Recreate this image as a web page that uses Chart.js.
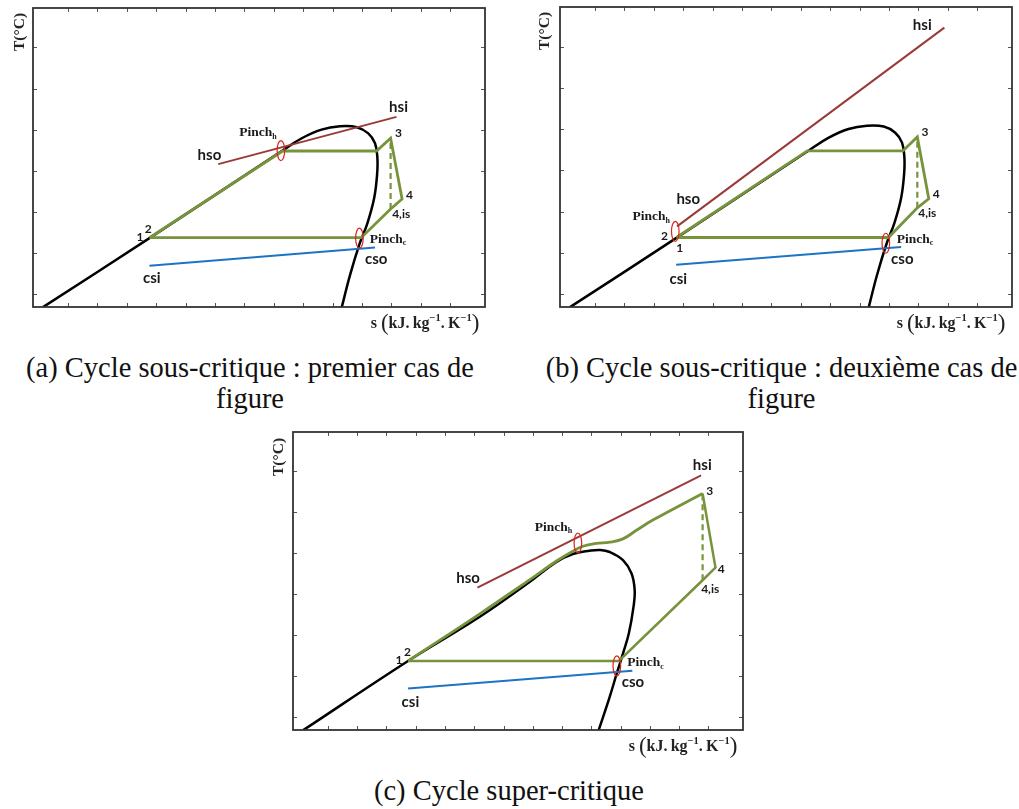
<!DOCTYPE html>
<html>
<head>
<meta charset="utf-8">
<script src="https://cdn.jsdelivr.net/npm/chart.js@4.4.1/dist/chart.umd.min.js"></script>
<style>
  body { margin: 0; background: #fff; width: 1019px; height: 809px; position: relative; overflow: hidden; }
  canvas { position: absolute; }
  .cap { position: absolute; font-family: "Liberation Serif", "Times New Roman", serif; font-size: 28.5px; line-height: 31px;
         text-align: center; color: #111; white-space: nowrap; }
  .ylab { position: absolute; font: bold 15.5px "Liberation Serif", serif; color: #222; white-space: nowrap;
          transform: translate(-50%, -50%) rotate(-90deg); }
  .xlab { position: absolute; font: bold 16px "Liberation Serif", serif; color: #222; white-space: nowrap;
          transform: translate(-50%, -50%); }
  .xlab .pp { font-weight: normal; font-size: 23px; vertical-align: -2px; }
  .xlab sup { font-size: 10.5px; vertical-align: 7px; line-height: 0; }
</style>
</head>
<body>
<canvas id="chartA" width="500" height="315" style="left:0;top:0"></canvas>
<canvas id="chartB" width="499" height="315" style="left:520px;top:0"></canvas>
<canvas id="chartC" width="500" height="315" style="left:255px;top:425px"></canvas>

<div class="ylab" style="left:18.5px;top:32px">T(°C)</div>
<div class="ylab" style="left:544px;top:31px">T(°C)</div>
<div class="ylab" style="left:278px;top:457px">T(°C)</div>
<div class="xlab" style="left:425px;top:323px">s <span class="pp">(</span>kJ.&thinsp;kg<sup>−1</sup>.&thinsp;K<sup>−1</sup><span class="pp">)</span></div>
<div class="xlab" style="left:951px;top:323px">s <span class="pp">(</span>kJ.&thinsp;kg<sup>−1</sup>.&thinsp;K<sup>−1</sup><span class="pp">)</span></div>
<div class="xlab" style="left:683px;top:746px">s <span class="pp">(</span>kJ.&thinsp;kg<sup>−1</sup>.&thinsp;K<sup>−1</sup><span class="pp">)</span></div>

<div class="cap" style="left:0;top:352px;width:500px">(a) Cycle sous-critique : premier cas de<br>figure</div>
<div class="cap" style="left:532px;top:352px;width:499px">(b) Cycle sous-critique : deuxième cas de<br>figure</div>
<div class="cap" style="left:259px;top:775px;width:500px">(c) Cycle super-critique</div>

<script>
// axis ticks (no tick labels in the schematic)
const xTicks = [1, 2, 3, 4, 5, 6, 7, 8, 9, 10, 11, 12, 13, 14];
const yTicks = [1, 2, 3, 4, 5, 6, 7];

// saturation dome, sub-critical cases (a) and (b)
const domeS = [0.15, 3.77, 8.27, 8.95, 9.62, 10.25, 10.82, 11.21, 11.44, 11.52, 11.51, 11.41, 11.18, 10.92, 10.59, 10.31];
const domeT = [0.68, 2.36, 4.48, 4.79, 5.00, 5.08, 5.06, 4.91, 4.67, 4.32, 3.90, 3.33, 2.72, 2.23, 1.46, 0.68];

// (a) premier cas
const cycleAS = [3.77, 8.30, 11.49, 11.97, 12.36, 11.97, 10.97, 3.77];
const cycleAT = [2.37, 4.48, 4.48, 4.79, 3.31, 3.07, 2.37, 2.37];
const dashAS = [11.97, 11.97];
const dashAT = [3.07, 4.79];
const hotAS = [6.11, 12.17];
const hotAT = [4.16, 5.31];
const coldAS = [3.77, 11.44];
const coldAT = [1.69, 2.13];
const pinchAS = [8.24, 10.91];
const pinchAT = [4.49, 2.36];
const labelsA = ["hsi", "hso", "Pinch|h", "3", "4", "4,is", "1", "2", "Pinch|c", "cso", "csi"];
const labelAS = [12.24, 5.81, 7.46, 12.24, 12.61, 12.33, 3.45, 3.73, 11.88, 11.48, 3.85];
const labelAT = [5.54, 4.38, 4.92, 4.91, 3.41, 2.95, 2.39, 2.58, 2.33, 1.85, 1.38];

// (b) deuxième cas
const cycleBS = [3.77, 8.22, 11.47, 11.96, 12.35, 11.96, 10.98, 3.77];
const cycleBT = [2.37, 4.47, 4.47, 4.81, 3.31, 3.09, 2.37, 2.37];
const dashBS = [11.96, 11.96];
const dashBT = [3.09, 4.81];
const hotBS = [3.79, 12.88];
const hotBT = [2.64, 7.46];
const coldBS = [3.76, 11.41];
const coldBT = [1.71, 2.14];
const pinchBS = [3.73, 10.89];
const pinchBT = [2.52, 2.23];
const labelsB = ["hsi", "hso", "Pinch|h", "2", "1", "3", "4", "4,is", "Pinch|c", "cso", "csi"];
const labelBS = [12.13, 4.17, 2.91, 3.36, 3.88, 12.22, 12.60, 12.30, 11.88, 11.45, 3.83];
const labelBT = [7.52, 3.29, 2.88, 2.41, 2.11, 4.93, 3.41, 2.96, 2.33, 1.85, 1.37];

// (c) super-critique
const domeCS = [0.16, 3.74, 6.19, 7.89, 8.81, 9.37, 9.94, 10.30, 10.63, 11.08, 11.37, 11.48, 11.44, 11.28, 11.08, 10.87, 10.63, 10.25];
const domeCT = [0.68, 2.37, 3.45, 4.30, 4.79, 4.98, 5.06, 5.08, 5.03, 4.83, 4.51, 4.10, 3.69, 3.04, 2.55, 2.07, 1.50, 0.68];
const heatCS = [3.74, 6.19, 7.89, 8.81, 9.37, 9.71, 10.17, 10.63, 11.08, 11.54, 12.10, 13.80];
const heatCT = [2.37, 3.52, 4.35, 4.81, 5.05, 5.17, 5.24, 5.27, 5.35, 5.56, 5.81, 6.46];
const cycleCS = [13.80, 14.24, 13.80, 10.94, 3.74];
const cycleCT = [6.46, 4.65, 4.34, 2.37, 2.37];
const dashCS = [13.80, 13.80];
const dashCT = [4.34, 6.46];
const hotCS = [6.11, 13.75];
const hotCT = [4.16, 6.90];
const coldCS = [3.74, 11.40];
const coldCT = [1.70, 2.13];
const pinchCS = [9.54, 10.87];
const pinchCT = [5.25, 2.25];
const labelsC = ["hsi", "hso", "Pinch|h", "3", "4", "4,is", "1", "2", "Pinch|c", "cso", "csi"];
const labelCS = [13.79, 5.79, 8.71, 14.04, 14.44, 14.06, 3.43, 3.72, 11.85, 11.42, 3.82];
const labelCT = [7.15, 4.38, 5.63, 6.52, 4.61, 4.12, 2.39, 2.58, 2.32, 1.86, 1.37];

const BLACK = "#000000";
const GREEN = "#77933c";
const RED = "#993a38";
const BLUE = "#1c74c6";
const PINCH = "#d8261c";

function pts(s, t) {
  return s.map((v, i) => ({ x: v, y: t[i] }));
}

// lower "order" is drawn on top
function line(data, color, width, order, extra) {
  return Object.assign({
    data,
    borderColor: color,
    borderWidth: width,
    pointRadius: 0,
    showLine: true,
    fill: false,
    tension: 0,
    order
  }, extra || {});
}

function drawLabel(ctx, text, px, py) {
  ctx.fillStyle = "#1a1a1a";
  ctx.textBaseline = "middle";
  if (text.includes("|")) {
    const [main, sub] = text.split("|");
    ctx.font = "bold 13.5px 'Liberation Serif'";
    const w1 = ctx.measureText(main).width;
    ctx.font = "bold 8px 'Liberation Serif'";
    const w2 = ctx.measureText(sub).width;
    const x0 = px - (w1 + w2) / 2;
    ctx.textAlign = "left";
    ctx.font = "bold 13.5px 'Liberation Serif'";
    ctx.fillText(main, x0, py);
    ctx.font = "bold 8px 'Liberation Serif'";
    ctx.fillText(sub, x0 + w1, py + 4);
    return;
  }
  ctx.textAlign = "center";
  if (/^[hc]s/.test(text)) {
    ctx.font = "bold 15px Lato";
  } else {
    ctx.font = "bold 12px Lato";
  }
  ctx.fillText(text, px, py);
}

function framePlugin(pinchS, pinchT, labels, labelS, labelT) {
  return {
    id: "frame",
    afterDatasetsDraw(chart) {
      const { ctx, chartArea: a } = chart;
      const x = chart.scales.x;
      const y = chart.scales.y;
      ctx.save();

      // pinch markers
      ctx.strokeStyle = PINCH;
      ctx.lineWidth = 1.2;
      pinchS.forEach((s, i) => {
        ctx.beginPath();
        ctx.ellipse(x.getPixelForValue(s), y.getPixelForValue(pinchT[i]), 3.8, 10, 0, 0, Math.PI * 2);
        ctx.stroke();
      });

      labels.forEach((txt, i) => {
        drawLabel(ctx, txt, x.getPixelForValue(labelS[i]), y.getPixelForValue(labelT[i]));
      });

      // box with inward ticks on all four sides
      ctx.strokeStyle = "#555";
      ctx.lineWidth = 1;
      ctx.beginPath();
      xTicks.forEach((v) => {
        const px = Math.round(x.getPixelForValue(v)) + 0.5;
        ctx.moveTo(px, a.bottom); ctx.lineTo(px, a.bottom - 4);
        ctx.moveTo(px, a.top); ctx.lineTo(px, a.top + 4);
      });
      yTicks.forEach((v) => {
        const py = Math.round(y.getPixelForValue(v)) + 0.5;
        ctx.moveTo(a.left, py); ctx.lineTo(a.left + 4, py);
        ctx.moveTo(a.right, py); ctx.lineTo(a.right - 4, py);
      });
      ctx.stroke();
      ctx.strokeStyle = "#333";
      ctx.lineWidth = 1.8;
      ctx.strokeRect(a.left, a.top, a.right - a.left, a.bottom - a.top);
      ctx.restore();
    }
  };
}

function makeChart(id, padding, datasets, plugin) {
  return new Chart(document.getElementById(id), {
    type: "scatter",
    data: { datasets },
    options: {
      responsive: false,
      animation: false,
      devicePixelRatio: 1,
      layout: { padding },
      plugins: { legend: { display: false }, tooltip: { enabled: false } },
      scales: {
        x: { type: "linear", min: -0.19, max: 15.18, display: false },
        y: { type: "linear", min: 0.684, max: 7.96, display: false }
      }
    },
    plugins: [plugin]
  });
}

makeChart("chartA", { left: 33, top: 8, right: 15, bottom: 8 }, [
  line(pts(domeS, domeT), BLACK, 2.5, 5, { tension: 0.4 }),
  line(pts(cycleAS, cycleAT), GREEN, 2.8, 4),
  line(pts(dashAS, dashAT), GREEN, 2.2, 3, { borderDash: [6, 4] }),
  line(pts(hotAS, hotAT), RED, 2, 1),
  line(pts(coldAS, coldAT), BLUE, 2, 2)
], framePlugin(pinchAS, pinchAT, labelsA, labelAS, labelAT));

makeChart("chartB", { left: 40, top: 7, right: 7, bottom: 8 }, [
  line(pts(domeS, domeT), BLACK, 2.5, 5, { tension: 0.4 }),
  line(pts(cycleBS, cycleBT), GREEN, 2.8, 4),
  line(pts(dashBS, dashBT), GREEN, 2.2, 3, { borderDash: [6, 4] }),
  line(pts(hotBS, hotBT), RED, 2, 1),
  line(pts(coldBS, coldBT), BLUE, 2, 2)
], framePlugin(pinchBS, pinchBT, labelsB, labelBS, labelBT));

makeChart("chartC", { left: 38, top: 7, right: 12, bottom: 10 }, [
  line(pts(domeCS, domeCT), BLACK, 2.5, 6, { tension: 0.4 }),
  line(pts(heatCS, heatCT), GREEN, 2.8, 5, { tension: 0.4 }),
  line(pts(cycleCS, cycleCT), GREEN, 2.5, 4),
  line(pts(dashCS, dashCT), GREEN, 2.2, 3, { borderDash: [6, 4] }),
  line(pts(hotCS, hotCT), RED, 2, 1),
  line(pts(coldCS, coldCT), BLUE, 2, 2)
], framePlugin(pinchCS, pinchCT, labelsC, labelCS, labelCT));
</script>
</body>
</html>
